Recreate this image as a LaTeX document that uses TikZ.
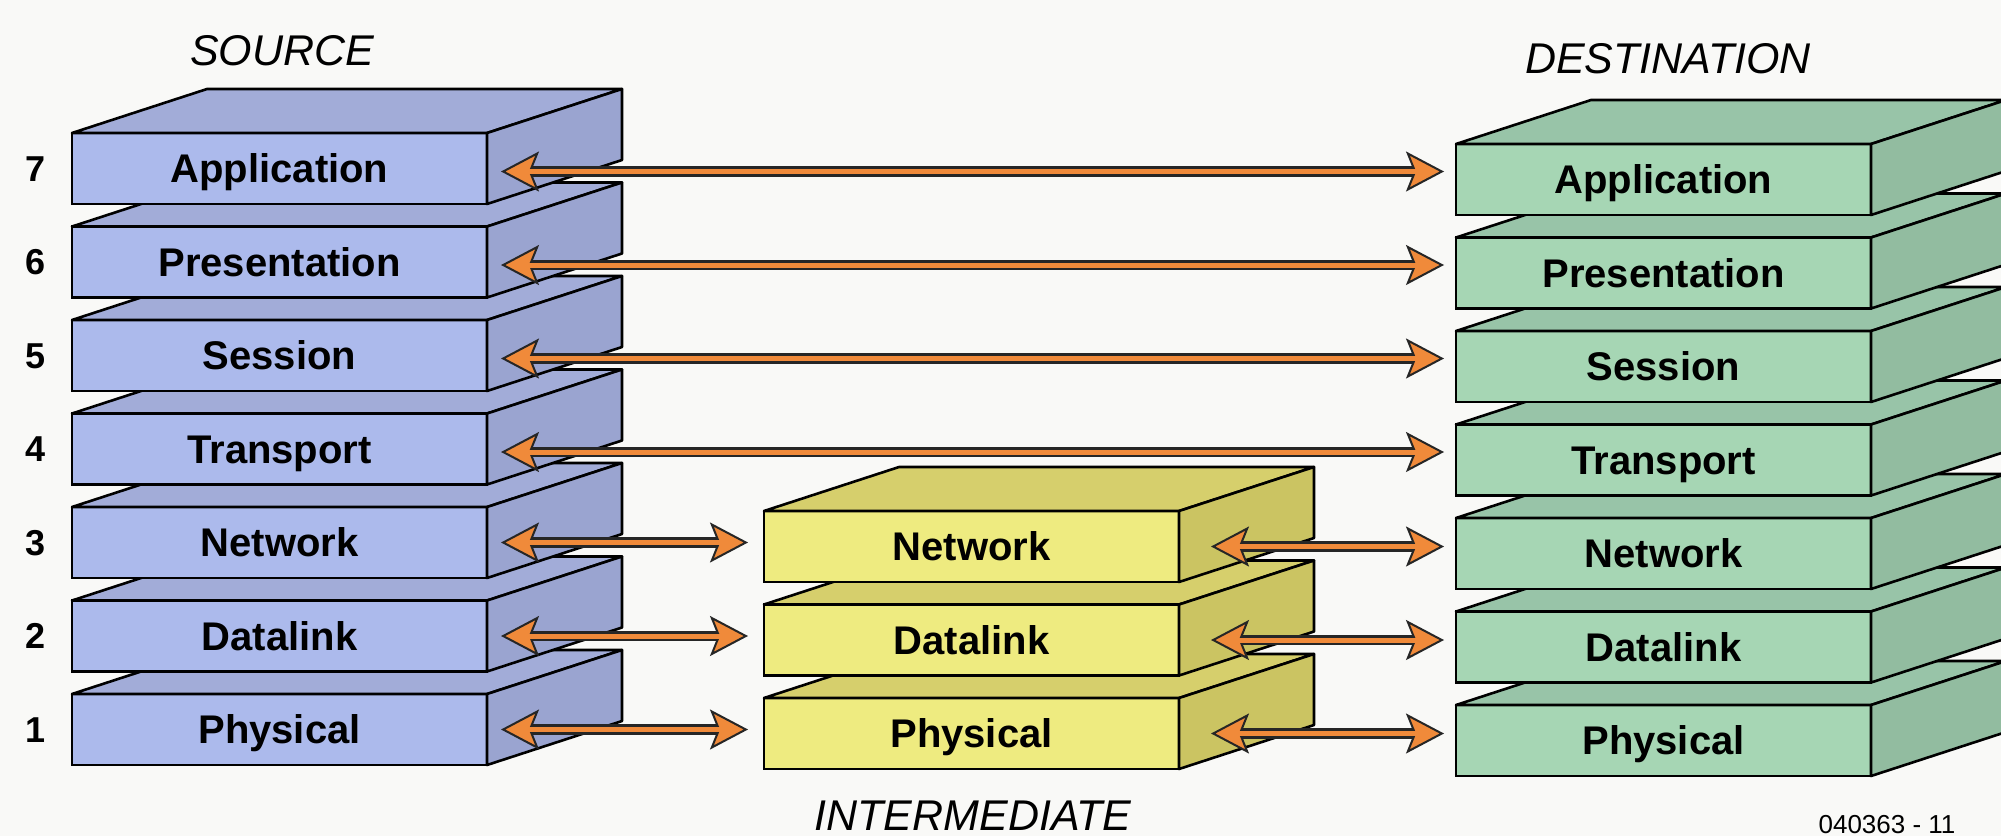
\documentclass[tikz,border=0pt]{standalone}
\usepackage{fontspec}
\setmainfont{Liberation Sans}
\usetikzlibrary{arrows.meta}
\definecolor{bgcol}{HTML}{F9F9F7}
\definecolor{srcfront}{HTML}{ACBAEC}
\definecolor{srctop}{HTML}{A2ACD8}
\definecolor{srcside}{HTML}{9AA4D0}
\definecolor{midfront}{HTML}{EEEB80}
\definecolor{midtop}{HTML}{D6CF6C}
\definecolor{midside}{HTML}{CBC462}
\definecolor{dstfront}{HTML}{A6D6B4}
\definecolor{dsttop}{HTML}{98C4A8}
\definecolor{dstside}{HTML}{92BCA0}
\definecolor{arrorange}{HTML}{F08A3A}
\tikzset{
  face/.style={draw=black, line width=1.3pt, minimum width=207.5pt, minimum height=35.5pt,
    inner sep=0pt, outer sep=0pt, anchor=north west,
    font=\fontsize{20}{24}\selectfont\bfseries, text height=14.3pt, text depth=0pt},
  edge/.style={draw=black, line width=1.3pt, line join=round},
  layernum/.style={font=\fontsize{18}{22}\selectfont\bfseries, text height=12.9pt, text depth=0pt, inner sep=0pt},
  stacktitle/.style={font=\fontsize{21.5}{26}\selectfont\itshape, anchor=base, inner sep=0pt},
  figno/.style={font=\fontsize{13}{15}\selectfont, anchor=base, inner sep=0pt},
  linktip/.tip={Stealth[length=19pt,width=20pt,inset=4pt,line width=1pt,fill=arrorange]},
  linkouter/.style={draw=black!85, line width=5.2pt, {linktip}-{linktip}},
  linkinner/.style={draw=arrorange, line width=2.5pt, shorten <=12pt, shorten >=12pt},
}
\newcommand\osilayer[5]{%
  \node[face, fill=#4front] (#1) at (#2,#3) {#5};
  \filldraw[edge, fill=#4top] (#1.north west) -- ++(135,-44) -- ++(415,0) -- (#1.north east) -- cycle;
  \filldraw[edge, fill=#4side] (#1.north east) -- ++(135,-44) -- ++(0,71) -- (#1.south east) -- cycle;
}
\newcommand\linkarrow[2]{%
  \draw[linkouter] #1 -- #2;
  \draw[linkinner] #1 -- #2;
}
\begin{document}
\begin{tikzpicture}[x=0.5pt,y=-0.5pt]
\fill[bgcol] (0,0) rectangle (2001,836);
\useasboundingbox (0,0) rectangle (2001,836);
\clip (0,0) rectangle (2001,836);

% source stack
\osilayer{s1}{72}{694}{src}{Physical}
\osilayer{s2}{72}{600.5}{src}{Datalink}
\osilayer{s3}{72}{507}{src}{Network}
\osilayer{s4}{72}{413.5}{src}{Transport}
\osilayer{s5}{72}{320}{src}{Session}
\osilayer{s6}{72}{226.5}{src}{Presentation}
\osilayer{s7}{72}{133}{src}{Application}

% intermediate stack
\osilayer{m1}{764}{698}{mid}{Physical}
\osilayer{m2}{764}{604.5}{mid}{Datalink}
\osilayer{m3}{764}{511}{mid}{Network}

% destination stack
\osilayer{d1}{1456}{705}{dst}{Physical}
\osilayer{d2}{1456}{611.5}{dst}{Datalink}
\osilayer{d3}{1456}{518}{dst}{Network}
\osilayer{d4}{1456}{424.5}{dst}{Transport}
\osilayer{d5}{1456}{331}{dst}{Session}
\osilayer{d6}{1456}{237.5}{dst}{Presentation}
\osilayer{d7}{1456}{144}{dst}{Application}

% layer numbers
\foreach \k in {1,...,7}{
  \node[layernum] (n\k) at (s\k.west -| 36,0) {\k};
}

% titles
\node[stacktitle] (tsrc) at (282,65) {SOURCE};
\node[stacktitle] (tdst) at (1668,73) {DESTINATION};
\node[stacktitle] (tmid) at (973,830) {INTERMEDIATE};
\node[figno] (fig) at (1887,833) {040363 - 11};

% peer-to-peer arrows
\foreach \k in {4,...,7}{
  \linkarrow{([xshift=7pt,yshift=-1.5pt]s\k.east)}{([xshift=-6pt,yshift=-1.5pt]s\k.east -| d\k.west)}
}
\foreach \k in {1,2,3}{
  \linkarrow{([xshift=7pt]s\k.east)}{([xshift=-8pt]s\k.east -| m\k.west)}
  \linkarrow{([xshift=16pt]m\k.east)}{([xshift=-6pt]m\k.east -| d\k.west)}
}
\end{tikzpicture}
\end{document}
